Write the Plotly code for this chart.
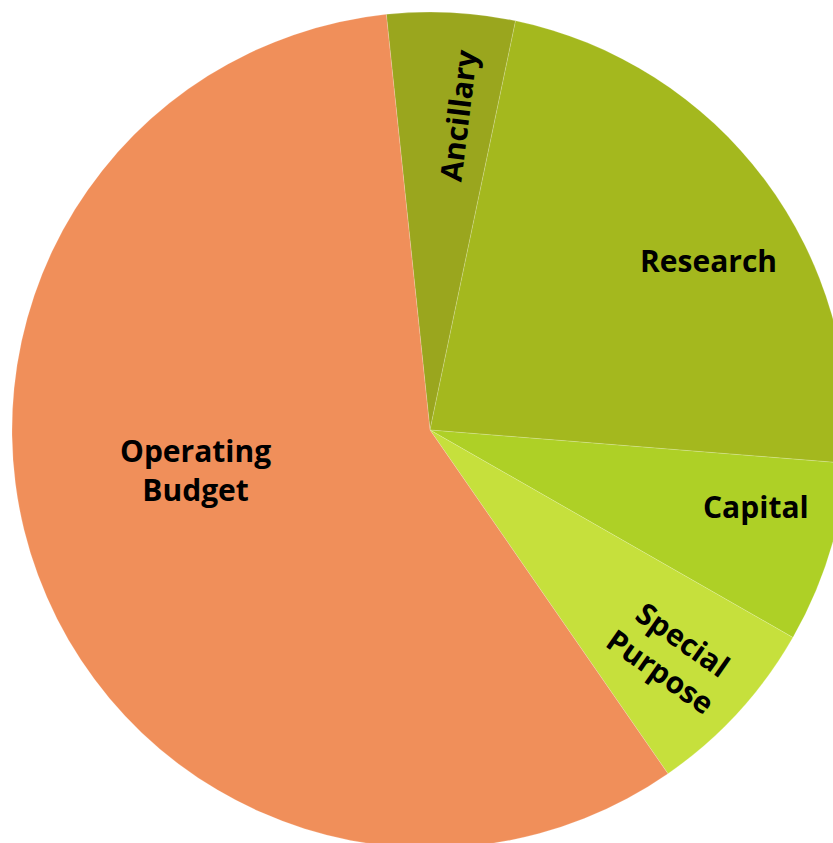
import math
import plotly.graph_objects as go

categories = ["Ancillary", "Research", "Capital", "Special Purpose", "Operating Budget"]
values = [4.95, 23.0, 7.0, 7.1, 58.0]
labels_text = ["Ancillary", "Research", "Capital", "Special<br>Purpose", "Operating<br>Budget"]
colors = ["#9AA61E", "#A4B81E", "#AED026", "#C6E03C", "#F08F5A"]

# label placement: (angle from 12 o'clock clockwise in deg, fraction of radius, text angle)
label_place = {
    "Ancillary": (5.1, 0.755, -83),
    "Research": (58.6, 0.78, 0),
    "Capital": (103.2, 0.80, 0),
    "Special Purpose": (132.9, 0.79, 35),
    "Operating Budget": (260.4, 0.57, 0),
}

W, H, M = 860, 860, 12

font = dict(family="Open Sans", size=30, color="black", weight="bold")

fig = go.Figure()
fig.add_trace(go.Pie(
    labels=categories, values=values, sort=False, direction="clockwise",
    rotation=-6, textinfo="none",
    marker=dict(colors=colors, line=dict(width=0.5, color="rgba(255,255,255,0.35)")),
    hoverinfo="label+percent", showlegend=False,
))

annotations = []
for c, t in zip(categories, labels_text):
    ang, fr, ta = label_place[c]
    a = math.radians(ang)
    x = 0.5 + 0.5 * fr * math.sin(a)
    y = 0.5 + 0.5 * fr * math.cos(a)
    annotations.append(dict(x=x, y=y, xref="paper", yref="paper", text=t, textangle=ta,
                            showarrow=False, font=font, xanchor="center", yanchor="middle"))

fig.update_layout(
    width=W, height=H,
    margin=dict(l=M, r=M, t=M, b=M),
    paper_bgcolor="white", plot_bgcolor="white",
    annotations=annotations,
)
fig.write_html("out.html", config={"displayModeBar": False},
               post_script="document.body.style.margin='0';document.body.style.overflow='hidden';")
